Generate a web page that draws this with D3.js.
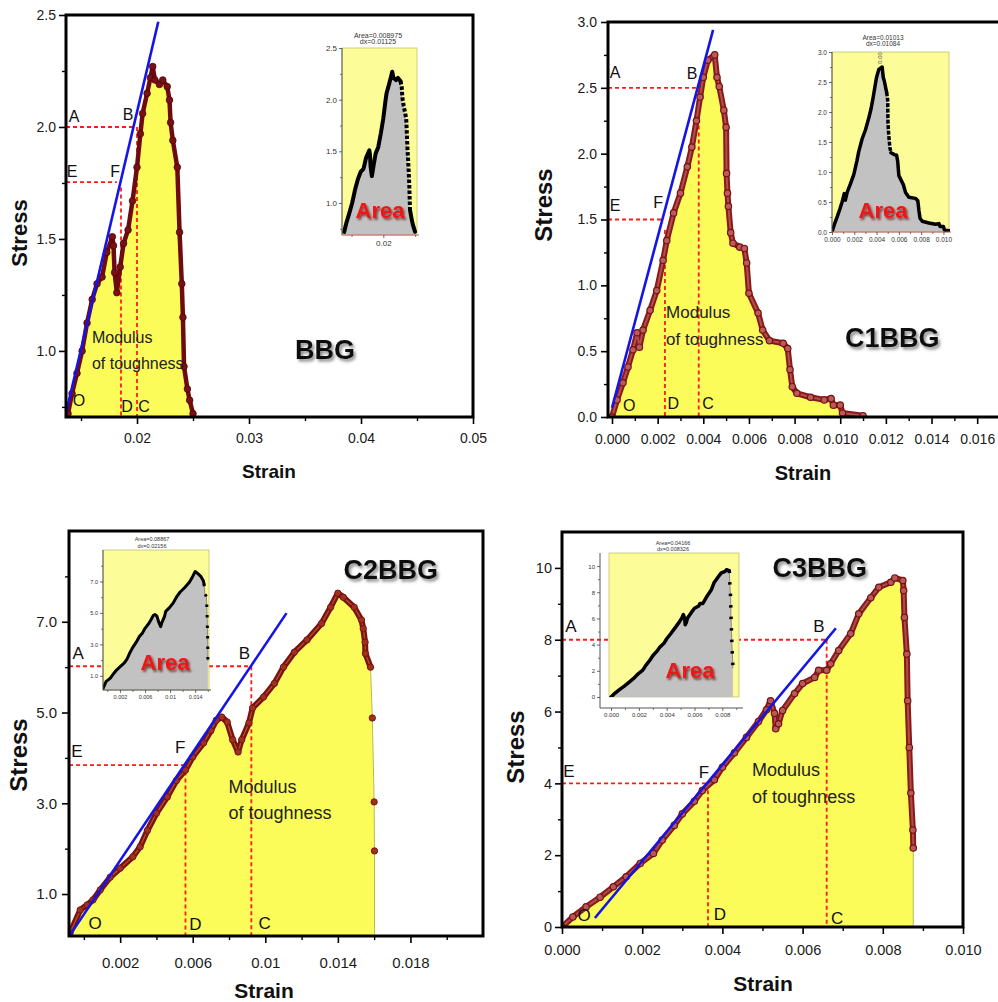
<!DOCTYPE html>
<html><head><meta charset="utf-8">
<script src="https://cdn.jsdelivr.net/npm/d3@7"></script>
<style>body{margin:0;background:#fff}svg{display:block}</style>
</head><body>
<svg id="c" width="998" height="1002"></svg>
<script>
// ---------------- DATA ----------------
// BBG
const bbgStrain = [0.01384,0.0142,0.01464,0.0151,0.01554,0.0160,0.01643,0.01688,0.0173,0.0178,0.0179,0.0180,0.0182,0.0185,0.0188,0.0192,0.0196,0.0200,0.0203,0.0205,0.0209,0.0212,0.0214,0.0216,0.0220,0.0223,0.0227,0.0229,0.0230,0.0232,0.0236,0.0238,0.0240,0.0241,0.0242,0.0245,0.0247,0.0250];
const bbgStress = [0.72,0.81,0.90,1.00,1.125,1.23,1.30,1.33,1.44,1.51,1.47,1.35,1.26,1.375,1.48,1.54,1.67,1.82,1.97,2.06,2.15,2.22,2.27,2.21,2.19,2.21,2.18,2.12,2.02,1.94,1.82,1.53,1.30,1.15,0.93,0.83,0.78,0.72];
const bbgFit = [[0.01366,0.723],[0.0219,2.47]];
const bbgH = [[2.0,0.0199],[1.754,0.0182]];
const bbgV = [[0.0200,2.0],[0.01857,1.73]];
const bbgLetters = [["A",0.01438,2.049],["B",0.0192,2.054],["E",0.0142,1.80],["F",0.01804,1.80],["O",0.01482,0.78],["D",0.01911,0.75],["C",0.02063,0.75]];
const bbgXMajor = [0.02,0.03,0.04,0.05];
const bbgXMinor = [0.015,0.025,0.035,0.045];
const bbgYMajor = [1.0,1.5,2.0,2.5];
const bbgYMinor = [0.75,1.25,1.75,2.25];

// C1BBG
const c1Strain = [0,0.00022,0.00048,0.0007,0.00092,0.0011,0.0012,0.00136,0.00167,0.00196,0.00224,0.0024,0.0027,0.0030,0.0033,0.0035,0.0037,0.00386,0.0040,0.0042,0.0045,0.0046,0.0047,0.0049,0.0050,0.00502,0.00506,0.0051,0.0052,0.0053,0.0056,0.0058,0.0059,0.0060,0.0064,0.0066,0.0069,0.0075,0.0077,0.0078,0.0079,0.0081,0.0087,0.0093,0.0096,0.0097,0.0100,0.0101,0.0110];
const c1Stress = [0,0.13,0.26,0.38,0.51,0.64,0.53,0.66,0.81,0.96,1.19,1.34,1.55,1.70,1.90,2.05,2.25,2.43,2.58,2.71,2.75,2.58,2.51,2.33,2.20,1.85,1.70,1.60,1.40,1.32,1.29,1.28,1.17,0.94,0.79,0.66,0.58,0.56,0.52,0.36,0.23,0.18,0.15,0.13,0.14,0.09,0.09,0.03,0.01];
const c1Fit = [[0,0.07],[0.00443,2.94]];
const c1H = [[2.5,0.00386],[1.5,0.00228]];
const c1V = [[0.0038,2.32],[0.00232,1.42]];
const c1Letters = [["A",0.00013,2.62],["B",0.00351,2.61],["E",0.00013,1.61],["F",0.00202,1.63],["O",0.00075,0.09],["D",0.00268,0.106],["C",0.00421,0.106]];
const c1XMajor = [0,0.002,0.004,0.006,0.008,0.010,0.012,0.014,0.016];
const c1XMinor = [0.001,0.003,0.005,0.007,0.009,0.011,0.013,0.015];
const c1YMajor = [0,0.5,1.0,1.5,2.0,2.5,3.0];
const c1YMinor = [0.25,0.75,1.25,1.75,2.25,2.75];

// C2BBG
const c2Strain = [-0.00076,-0.0002,0.00018,0.0005,0.0009,0.00145,0.002,0.0027,0.0031,0.0035,0.004,0.0046,0.0051,0.0056,0.006,0.0066,0.007,0.0073,0.0076,0.0079,0.0082,0.0085,0.0087,0.0091,0.0093,0.0099,0.0105,0.011,0.0116,0.0123,0.0131,0.0136,0.014,0.0143,0.0149,0.0153,0.0154,0.0155,0.01552,0.0158,0.0159,0.0160,0.01602];
const c2Stress = [0.14,0.65,0.76,0.87,1.09,1.37,1.57,1.82,2.04,2.4,2.78,3.14,3.5,3.73,4.02,4.33,4.6,4.83,4.9,4.79,4.4,4.13,4.4,4.77,5.1,5.34,5.64,6.0,6.33,6.6,6.96,7.32,7.63,7.54,7.32,7.04,6.85,6.55,6.3,6.0,4.88,3.03,1.95];
const c2Fit = [[-0.00076,0.1],[0.01117,7.19]];
const c2H = [[6.02,0.0092],[3.84,0.0055]];
const c2V = [[0.00923,6.02],[0.0056,3.7]];
const c2Letters = [["A",-0.00032,6.31],["B",0.00885,6.31],["E",-0.00038,4.13],["F",0.00531,4.22],["O",0.00062,0.36],["D",0.00614,0.32],["C",0.00996,0.36]];
const c2XMajor = [0.002,0.006,0.01,0.014,0.018];
const c2XMinor = [0,0.004,0.008,0.012,0.016,0.020];
const c2YMajor = [1.0,3.0,5.0,7.0];
const c2YMinor = [2,4,6,8];

// C3BBG
const c3Strain = [0,0.00027,0.0006,0.00095,0.00128,0.0016,0.00195,0.00228,0.0025,0.0028,0.0030,0.0033,0.0035,0.0038,0.0040,0.0043,0.0046,0.0049,0.0051,0.0052,0.0053,0.00533,0.0054,0.0055,0.0058,0.0060,0.0063,0.0064,0.0066,0.0067,0.0069,0.0072,0.0074,0.0077,0.0079,0.0082,0.0083,0.0085,0.00852,0.00854,0.0086,0.00862,0.00866,0.0087,0.00875,0.00876];
const c3Stress = [0,0.28,0.56,0.83,1.12,1.4,1.77,2.05,2.42,2.83,3.15,3.5,3.8,4.1,4.45,4.85,5.28,5.72,6.05,6.3,5.95,5.52,5.66,6.03,6.5,6.78,6.95,7.15,7.15,7.33,7.7,8.17,8.72,9.17,9.46,9.6,9.72,9.65,9.37,8.62,7.6,6.3,5.0,3.73,2.7,2.2];
const c3Fit = [[0.00082,0.25],[0.00683,8.32]];
const c3H = [[8,0.0066],[4,0.00362]];
const c3V = [[0.0066,8],[0.00364,4]];
const c3Letters = [["A",0.00022,8.38],["B",0.00641,8.36],["E",0.00017,4.32],["F",0.00354,4.29],["O",0.00055,0.31],["D",0.00394,0.36],["C",0.00686,0.25]];
const c3XMajor = [0,0.002,0.004,0.006,0.008,0.010];
const c3XMinor = [0.001,0.003,0.005,0.007,0.009];
const c3YMajor = [0,2,4,6,8,10];
const c3YMinor = [1,3,5,7,9];

// ---------------- DRAW ----------------
const FONT = "'Liberation Sans', Arial, Helvetica, sans-serif";
const svg = d3.select("#c");
const defs = svg.append("defs");
defs.append("filter").attr("id","tsh").attr("x","-20%").attr("y","-30%").attr("width","150%").attr("height","170%")
  .append("feDropShadow").attr("dx",2).attr("dy",2.5).attr("stdDeviation",1.6).attr("flood-color","#666").attr("flood-opacity",0.75);
defs.append("filter").attr("id","ash").attr("x","-20%").attr("y","-30%").attr("width","150%").attr("height","170%")
  .append("feDropShadow").attr("dx",1.5).attr("dy",2).attr("stdDeviation",1.2).attr("flood-color","#5a0000").attr("flood-opacity",0.7);

function fmt(f){ return typeof f === "string" ? d3.format(f) : f; }

function styleAxis(sel, fs, color, lw, lc){
  sel.select(".domain").remove();
  sel.selectAll("text").attr("font-family",FONT).attr("font-size",fs).attr("fill",color);
  sel.selectAll("line").attr("stroke",lc||"#000").attr("stroke-width",lw);
}

function drawPanel(p, idx){
  const g = svg.append("g");
  const {l,t,r,b} = p.box;
  const x = d3.scaleLinear().domain(p.xDomain).range([l,r]);
  const y = d3.scaleLinear().domain(p.yDomain).range([b,t]);
  const pts = p.strain.map((s,i)=>[s,p.stress[i]]);
  const cid = "clip"+idx;
  defs.append("clipPath").attr("id",cid).append("rect").attr("x",l).attr("y",t).attr("width",r-l).attr("height",b-t);
  const pg = g.append("g").attr("clip-path",`url(#${cid})`);

  // fill
  pg.append("path").datum(pts)
    .attr("d", d3.area().x(d=>x(d[0])).y0(b).y1(d=>y(d[1])))
    .attr("fill","#fbfb5a").attr("stroke","#a8a840").attr("stroke-width",0.8);

  // guide lines
  p.hLines.forEach(([yv,xe])=>{
    pg.append("line").attr("x1",l).attr("x2",x(xe)).attr("y1",y(yv)).attr("y2",y(yv))
      .attr("stroke","#ff1a1a").attr("stroke-width",1.8).attr("stroke-dasharray","4,3");
  });
  p.vLines.forEach(([xv,yt])=>{
    pg.append("line").attr("x1",x(xv)).attr("x2",x(xv)).attr("y1",y(yt)).attr("y2",b)
      .attr("stroke","#ff1a1a").attr("stroke-width",1.8).attr("stroke-dasharray","4,3");
  });

  // curve
  const line = d3.line().x(d=>x(d[0])).y(d=>y(d[1]));
  const st = p.style;
  const linePts = pts.slice(0, (p.lineEnd===undefined?pts.length:p.lineEnd+1));
  pg.append("path").datum(linePts).attr("d",line).attr("fill","none")
    .attr("stroke",st.line).attr("stroke-width",st.lw).attr("stroke-linejoin","round").attr("stroke-linecap","round");
  if (st.inner) {
    pg.append("path").datum(linePts).attr("d",line).attr("fill","none")
      .attr("stroke",st.inner).attr("stroke-width",st.innerW||1.4).attr("stroke-opacity",st.innerO||0.7)
      .attr("stroke-linejoin","round");
  }
  pg.selectAll("circle.m").data(pts).join("circle").attr("class","m")
    .attr("cx",d=>x(d[0])).attr("cy",d=>y(d[1])).attr("r",st.r)
    .attr("fill",st.fill).attr("stroke",st.stroke).attr("stroke-width",st.sw);

  // blue fit line
  pg.append("line").attr("x1",x(p.fit[0][0])).attr("y1",y(p.fit[0][1]))
    .attr("x2",x(p.fit[1][0])).attr("y2",y(p.fit[1][1]))
    .attr("stroke","#1414e6").attr("stroke-width",2.6);

  // axes
  const gx = g.append("g").attr("transform",`translate(0,${b})`)
    .call(d3.axisBottom(x).tickValues(p.xMajor).tickFormat(fmt(p.xFmt)).tickSize(7).tickPadding(p.xPad));
  styleAxis(gx, p.tickFs, "#1a1a1a", 1.6);
  const gxm = g.append("g").attr("transform",`translate(0,${b})`)
    .call(d3.axisBottom(x).tickValues(p.xMinor).tickFormat("").tickSize(4));
  styleAxis(gxm, p.tickFs, "#1a1a1a", 1.4);
  const gy = g.append("g").attr("transform",`translate(${l},0)`)
    .call(d3.axisLeft(y).tickValues(p.yMajor).tickFormat(fmt(p.yFmt)).tickSize(7).tickPadding(p.yPad));
  styleAxis(gy, p.tickFs, "#1a1a1a", 1.6);
  const gym = g.append("g").attr("transform",`translate(${l},0)`)
    .call(d3.axisLeft(y).tickValues(p.yMinor).tickFormat("").tickSize(4));
  styleAxis(gym, p.tickFs, "#1a1a1a", 1.4);

  // frame
  g.append("rect").attr("x",l).attr("y",t).attr("width",r-l).attr("height",b-t)
    .attr("fill","none").attr("stroke","#000").attr("stroke-width",3);

  // letters
  p.letters.forEach(([txt,lx,ly])=>{
    g.append("text").attr("x",x(lx)).attr("y",y(ly)).attr("text-anchor","middle")
      .attr("dominant-baseline","central").attr("font-family",FONT).attr("font-size",p.letFs)
      .attr("fill","#111").text(txt);
  });
  // modulus of toughness
  g.append("text").attr("x",x(p.modulus[0])).attr("y",y(p.modulus[1])).attr("dominant-baseline","central")
    .attr("font-family",FONT).attr("font-size",p.modFs).attr("fill","#222").text("Modulus");
  g.append("text").attr("x",x(p.modulus[0])).attr("y",y(p.modulus[2])).attr("dominant-baseline","central")
    .attr("font-family",FONT).attr("font-size",p.modFs).attr("fill","#222").text("of toughness");
  // title
  g.append("text").attr("x",x(p.titlePos[0])).attr("y",y(p.titlePos[1])).attr("text-anchor","middle")
    .attr("dominant-baseline","central").attr("font-family",FONT).attr("font-weight","bold")
    .attr("font-size",27).attr("fill","#111").attr("filter","url(#tsh)").text(p.title);
  // axis titles
  g.append("text").attr("transform",`translate(${p.stressPos[0]},${p.stressPos[1]}) rotate(-90)`)
    .attr("text-anchor","middle").attr("dominant-baseline","central").attr("font-family",FONT)
    .attr("font-weight","bold").attr("font-size",p.stressFs).attr("fill","#111").text("Stress");
  g.append("text").attr("x",p.strainPos[0]).attr("y",p.strainPos[1])
    .attr("text-anchor","middle").attr("dominant-baseline","central").attr("font-family",FONT)
    .attr("font-weight","bold").attr("font-size",p.strainFs).attr("fill","#111").text("Strain");

  drawInset(p, pts, idx);
}

function drawInset(p, pts, idx){
  const ins = p.inset;
  const g = svg.append("g");
  const {l,t,r,b} = ins.box;
  const ax = ins.axisX===undefined ? l : ins.axisX;
  const ay = ins.axisY===undefined ? b : ins.axisY;
  const x = d3.scaleLinear().domain(ins.xDomain).range([l,r]);
  const y = d3.scaleLinear().domain(ins.yDomain).range([b,t]);
  const cid = "iclip"+idx;
  defs.append("clipPath").attr("id",cid).append("rect").attr("x",l).attr("y",t-2).attr("width",r-l+1).attr("height",b-t+2);
  g.append("rect").attr("x",l).attr("y",t).attr("width",r-l).attr("height",b-t)
    .attr("fill","#fcfc98").attr("stroke","#c4c46a").attr("stroke-width",0.8);
  const cg = g.append("g").attr("clip-path",`url(#${cid})`);
  cg.append("path").datum(pts).attr("d", d3.area().x(d=>x(d[0])).y0(b).y1(d=>y(d[1])))
    .attr("fill","#c2c2c2");
  const line = d3.line().x(d=>x(d[0])).y(d=>y(d[1]));
  const [d0,d1] = ins.dash;
  if (ins.thinDrop) {
    cg.append("path").datum(pts.slice(d0)).attr("d",line).attr("fill","none").attr("stroke","#555").attr("stroke-width",0.6);
  }
  const seg = (a,c,dash)=>{
    const sp = cg.append("path").datum(pts.slice(a,c+1)).attr("d",line).attr("fill","none")
      .attr("stroke","#000").attr("stroke-width",ins.lw).attr("stroke-linejoin","round");
    if (dash) sp.attr("stroke-dasharray",ins.dashArr); else sp.attr("stroke-linecap","round");
  };
  seg(0,d0,false); seg(d0,d1,true); if (d1 < pts.length-1) seg(d1,pts.length-1,false);
  // axes
  g.append("line").attr("x1",ax).attr("x2",ax).attr("y1",t).attr("y2",ay).attr("stroke","#555").attr("stroke-width",1);
  g.append("line").attr("x1",ax).attr("x2",r+(ins.axisX===undefined?2:4)).attr("y1",ay).attr("y2",ay)
    .attr("stroke",ins.axisColor||"#555").attr("stroke-width",1);
  const gy = g.append("g").attr("transform",`translate(${ax},0)`)
    .call(d3.axisLeft(y).tickValues(ins.yMajor).tickFormat(fmt(ins.yFmt)).tickSize(3).tickPadding(2));
  styleAxis(gy, ins.fs, "#333", 0.8, "#444");
  const gym = g.append("g").attr("transform",`translate(${ax},0)`)
    .call(d3.axisLeft(y).tickValues(ins.yMinor).tickFormat("").tickSize(2));
  styleAxis(gym, ins.fs, "#333", 0.7, "#444");
  const gx = g.append("g").attr("transform",`translate(0,${ay})`)
    .call(d3.axisBottom(x).tickValues(ins.xMajor).tickFormat(fmt(ins.xFmt)).tickSize(3).tickPadding(2));
  styleAxis(gx, ins.fs, "#333", 0.8, "#444");
  const gxm = g.append("g").attr("transform",`translate(0,${ay})`)
    .call(d3.axisBottom(x).tickValues(ins.xMinor).tickFormat("").tickSize(2));
  styleAxis(gxm, ins.fs, "#333", 0.7, "#444");
  // title
  [ins.area, ins.dx].forEach((s,i)=>{
    g.append("text").attr("x",ins.titleX).attr("y",ins.titleY[i]).attr("text-anchor","middle")
      .attr("dominant-baseline","central").attr("font-family",FONT).attr("font-size",ins.titleFs)
      .attr("fill","#333").text(s);
  });
  if (ins.note) {
    g.append("text").attr("transform",`translate(${ins.note[1]},${ins.note[2]}) rotate(-90)`)
      .attr("text-anchor","middle").attr("dominant-baseline","central").attr("font-family",FONT)
      .attr("font-size",6).attr("fill","#555").text(ins.note[0]);
  }
  // Area label
  g.append("text").attr("x",ins.areaPos[0]).attr("y",ins.areaPos[1]).attr("text-anchor","middle")
    .attr("dominant-baseline","central").attr("font-family",FONT).attr("font-weight","bold")
    .attr("font-size",22).attr("fill","#ee1616").attr("filter","url(#ash)").text("Area");
}

const panels = [
  { title:"BBG", strain:bbgStrain, stress:bbgStress, box:{l:66,t:15,r:473,b:417},
    xDomain:[0.01366,0.05], yDomain:[0.705,2.5],
    xMajor:bbgXMajor, xMinor:bbgXMinor, yMajor:bbgYMajor, yMinor:bbgYMinor,
    xFmt:".2", yFmt:".1f", xPad:9, yPad:3, tickFs:14,
    fit:bbgFit, hLines:bbgH, vLines:bbgV, letters:bbgLetters, letFs:16,
    modulus:[0.01598,1.058,0.946], modFs:16, titlePos:[0.03679,1.004],
    stressPos:[19,233], strainPos:[269,471], stressFs:22, strainFs:19,
    style:{line:"#6e0b10", lw:4.5, r:3.3, fill:"#7a1016", stroke:"#4d0508", sw:0.8},
    inset:{ box:{l:342,t:48,r:417,b:235}, xDomain:[0.0135,0.0253], yDomain:[0.69,2.5],
      xMajor:[0.02], xMinor:[0.015,0.025], yMajor:[1.0,1.5,2.0,2.5], yMinor:[0.75,1.25,1.75,2.25],
      xFmt:".2", yFmt:".1f", fs:8, area:"Area=0.008975", dx:"dx=0.01125", titleX:378, titleY:[35,41], titleFs:7,
      areaPos:[380,210], dash:[26,34], dashArr:"3.5,2", lw:4, axisColor:"#c86060" } },
  { title:"C1BBG", strain:c1Strain, stress:c1Stress, box:{l:608,t:22,r:1000,b:417},
    xDomain:[-0.000175,0.017], yDomain:[0,3],
    xMajor:c1XMajor, xMinor:c1XMinor, yMajor:c1YMajor, yMinor:c1YMinor,
    xFmt:".3f", yFmt:".1f", xPad:10, yPad:4, tickFs:14,
    fit:c1Fit, hLines:c1H, vLines:c1V, letters:c1Letters, letFs:16,
    modulus:[0.00237,0.79,0.585], modFs:17, titlePos:[0.01228,0.60],
    stressPos:[543,205], strainPos:[803,473], stressFs:24, strainFs:20,
    style:{line:"#8a1a1a", lw:6, inner:"#b85c5c", innerW:2, innerO:0.8, r:3.2, fill:"#b85c5c", stroke:"#7a1010", sw:1.2},
    inset:{ box:{l:832,t:52,r:949,b:232}, xDomain:[0,0.0105], yDomain:[0,3],
      xMajor:[0,0.002,0.004,0.006,0.008,0.010], xMinor:[0.001,0.003,0.005,0.007,0.009],
      yMajor:[0,0.5,1.0,1.5,2.0,2.5,3.0], yMinor:[0.25,0.75,1.25,1.75,2.25,2.75],
      xFmt:".3f", yFmt:".1f", fs:6.5, area:"Area=0.01013", dx:"dx=0.01084", titleX:883, titleY:[37,43], titleFs:6.5,
      areaPos:[883,210], dash:[23,29], dashArr:"4,1.5", lw:3.5, note:["0.00",880,58], axisColor:"#c86060" } },
  { title:"C2BBG", strain:c2Strain, stress:c2Stress, box:{l:69,t:531,r:483,b:936},
    xDomain:[-0.00082,0.022], yDomain:[0.075,9.0], lineEnd:39,
    xMajor:c2XMajor, xMinor:c2XMinor, yMajor:c2YMajor, yMinor:c2YMinor,
    xFmt:String, yFmt:".1f", xPad:14, yPad:5, tickFs:15,
    fit:c2Fit, hLines:c2H, vLines:c2V, letters:c2Letters, letFs:17,
    modulus:[0.00797,3.36,2.78], modFs:18, titlePos:[0.01692,8.14],
    stressPos:[18,755], strainPos:[264,990], stressFs:24, strainFs:21,
    style:{line:"#7a1212", lw:6, inner:"#c8662c", r:3.2, fill:"#a0301c", stroke:"#6a0c0c", sw:0.8},
    inset:{ box:{l:103,t:550,r:209,b:690}, xDomain:[-0.0007,0.0162], yDomain:[0.1,9.0],
      xMajor:[0.002,0.006,0.01,0.014], xMinor:[0,0.004,0.008,0.012,0.016],
      yMajor:[1.0,3.0,5.0,7.0], yMinor:[2,4,6,8],
      xFmt:String, yFmt:".1f", fs:5.5, area:"Area=0.08867", dx:"dx=0.02156", titleX:152, titleY:[539,546], titleFs:5.5,
      areaPos:[165,662], dash:[36,42], dashArr:"2.5,8", lw:3, thinDrop:true } },
  { title:"C3BBG", strain:c3Strain, stress:c3Stress, box:{l:562,t:532,r:963,b:927},
    xDomain:[0,0.010], yDomain:[0,11],
    xMajor:c3XMajor, xMinor:c3XMinor, yMajor:c3YMajor, yMinor:c3YMinor,
    xFmt:".3f", yFmt:"d", xPad:11, yPad:3, tickFs:14.5,
    fit:c3Fit, hLines:c3H, vLines:c3V, letters:c3Letters, letFs:17,
    modulus:[0.00474,4.37,3.62], modFs:18, titlePos:[0.00643,10.0],
    stressPos:[515,747], strainPos:[763,983], stressFs:24, strainFs:21,
    style:{line:"#8a1a1a", lw:6, inner:"#b45a5a", innerW:2, innerO:0.8, r:3.2, fill:"#b45a5a", stroke:"#7a1010", sw:1.2},
    inset:{ box:{l:609,t:553,r:739,b:697}, axisX:600, axisY:708, xDomain:[-0.00015,0.0092], yDomain:[0,11],
      xMajor:[0,0.002,0.004,0.006,0.008], xMinor:[0.001,0.003,0.005,0.007,0.009],
      yMajor:[0,2,4,6,8,10], yMinor:[1,3,5,7,9],
      xFmt:".3f", yFmt:"d", fs:6, area:"Area=0.04166", dx:"dx=0.008326", titleX:673, titleY:[543,549], titleFs:5.5,
      areaPos:[690,670], dash:[37,45], dashArr:"2.5,9", lw:3.5, thinDrop:true } }
];

panels.forEach((p,i)=>drawPanel(p,i));
</script>
</body></html>
